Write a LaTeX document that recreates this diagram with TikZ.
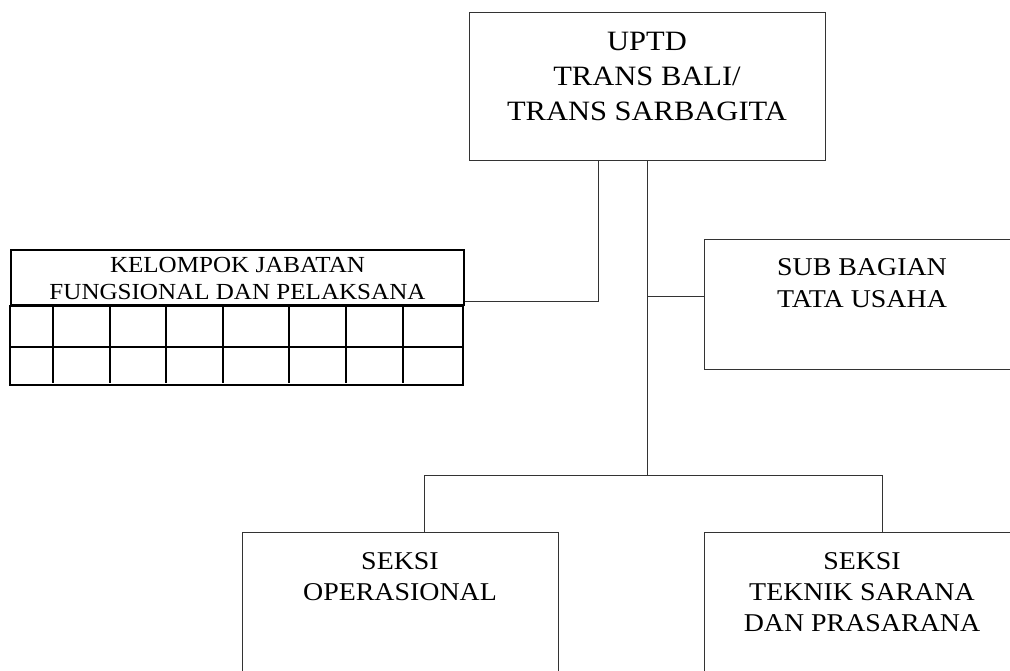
\documentclass[tikz,border=0pt]{standalone}
\usepackage{fontspec}
\setmainfont{Liberation Serif}[FakeStretch=1.09]
\usepackage{tikz}
\usetikzlibrary{calc}

\tikzset{
	unit/.style={draw=black!80, line width=0.5pt, anchor=north west, inner sep=0pt},
	caption/.style={align=center, anchor=north, inner sep=0pt},
	conn/.style={draw=black!80, line width=0.5pt},
	tbl/.style={draw=black, line width=1pt}
}

\begin{document}
\begin{tikzpicture}[x=0.5pt, y=-0.5pt]
	\useasboundingbox (0,0) rectangle (1010,670);
	\clip (0,0) rectangle (1010,670);

	\node[unit, minimum width=178pt, minimum height=74pt] (uptd) at (469,12) {};
	\node[caption, font=\fontsize{14}{17.5}\selectfont] (uptdtxt) at (647,32) {UPTD\\TRANS BALI/\\TRANS SARBAGITA};

	\node[unit, minimum width=158pt, minimum height=65pt] (tu) at (704,239) {};
	\node[caption, font=\fontsize{12.8}{16}\selectfont] (tutxt) at (862,258) {SUB BAGIAN\\TATA USAHA};

	\node[unit, tbl, minimum width=226.5pt, minimum height=27.5pt] (kjf) at (10,249) {};
	\node[caption, font=\fontsize{11.5}{13.5}\selectfont] (kjftxt) at (kjf.north |- 0,257) {KELOMPOK JABATAN\\FUNGSIONAL DAN PELAKSANA};
	\draw[tbl] (kjf.south west) rectangle ++(453,79);
	\draw[tbl] ($(kjf.south west)+(0,41)$) -- ++(453,0);
	\foreach \x in {53,110,166,223,289,346,403}
		\draw[tbl] (\x,304) -- (\x,383);

	\node[unit, minimum width=158pt, minimum height=80pt] (ops) at (242,532) {};
	\node[caption, font=\fontsize{12.8}{15.5}\selectfont] (opstxt) at (400,552) {SEKSI\\OPERASIONAL};

	\node[unit, minimum width=158pt, minimum height=80pt] (tsp) at (704,532) {};
	\node[caption, font=\fontsize{12.8}{15.5}\selectfont] (tsptxt) at (862,552) {SEKSI\\TEKNIK SARANA\\DAN PRASARANA};

	\coordinate (jf) at (598,301);
	\coordinate (jtu) at (704,296);
	\coordinate (bl) at (424,475);
	\coordinate (br) at (882,475);

	\draw[conn] (uptd.south -| jf) -- (jf) -- (kjf.east |- jf);
	\draw[conn] (uptd.south) -- (uptd.south |- bl);
	\draw[conn] (uptd.south |- jtu) -- (jtu);
	\draw[conn] (bl) -- (br);
	\draw[conn] (bl) -- (bl |- ops.north);
	\draw[conn] (br) -- (br |- tsp.north);
\end{tikzpicture}
\end{document}
